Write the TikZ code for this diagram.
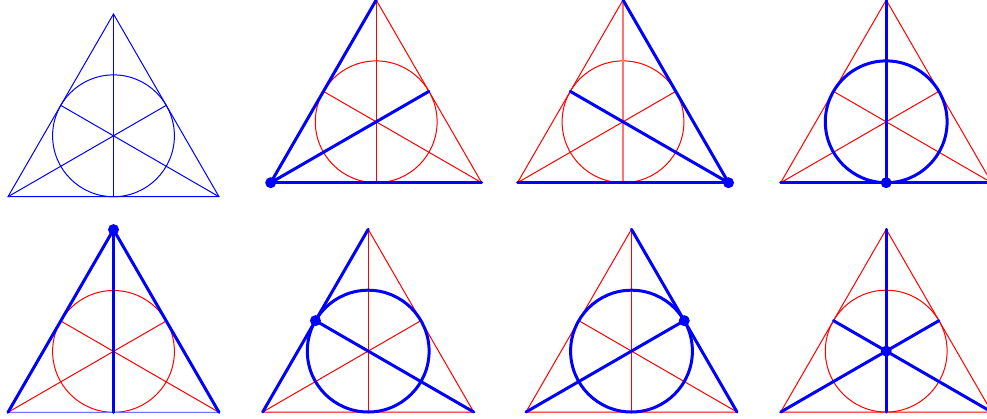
\documentclass[tikz,border=0pt]{standalone}
\usetikzlibrary{calc}
\tikzset{
  fanothin/.style={line width=1pt},
  fanohl/.style={blue, line width=3pt, line cap=round},
  fanodot/.style={fill=blue, draw=none}
}
\newcommand{\fanopts}[3]{%
  \coordinate (#1A) at (#2, #3);
  \coordinate (#1B) at (#2+211, #3);
  \coordinate (#1C) at (#2+105.5, #3-182.7);
  \coordinate (#1O) at (#2+105.5, #3-60.9);
  \coordinate (#1D) at (#2+105.5, #3);
  \coordinate (#1E) at ($(#1B)!0.5!(#1C)$);
  \coordinate (#1F) at ($(#1A)!0.5!(#1C)$);
}
\newcommand{\fanobase}[2]{%
  \draw[fanothin, #2] (#1A) -- (#1B) -- (#1C) -- cycle;
  \draw[fanothin, #2] (#1C) -- (#1D);
  \draw[fanothin, #2] (#1A) -- (#1E);
  \draw[fanothin, #2] (#1B) -- (#1F);
  \draw[fanothin, #2] (#1O) circle[radius=60.9];
}
\begin{document}
\begin{tikzpicture}[x=1pt,y=-1pt]
\useasboundingbox (0,0) rectangle (987,418);
\clip (0,0) rectangle (987,418);
% panel 1
\fanopts{a}{8}{196.7}
\fanobase{a}{blue}
\draw[fanothin, blue, line width=1.5pt] (aA) -- (aB);
% panel 2
\fanopts{b}{270.7}{182.7}
\fanobase{b}{red}
\draw[fanohl] (bA) -- (bC);
\draw[fanohl] (bA) -- (bB);
\draw[fanohl] (bA) -- (bE);
\fill[fanodot] (bA) circle[radius=5.5];
% panel 3
\fanopts{c}{517.5}{182.7}
\fanobase{c}{red}
\draw[red!55, line width=1.5pt] (cC) -- (cD);
\draw[fanohl] (cB) -- (cC);
\draw[fanohl] (cB) -- (cA);
\draw[fanohl] (cB) -- (cF);
\fill[fanodot] (cB) circle[radius=5.5];
% panel 4
\fanopts{d}{780.7}{182.7}
\fanobase{d}{red}
\draw[fanohl] (dA) -- (dB);
\draw[fanohl] (dC) -- (dD);
\draw[fanohl] (dO) circle[radius=60.9];
\fill[fanodot] (dD) circle[radius=5.5];
% panel 5
\fanopts{e}{8}{412.3}
\fanobase{e}{red}
\draw[fanothin, blue!55] (eA) -- (eB);
\draw[fanohl] (eC) -- (eA);
\draw[fanohl] (eC) -- (eB);
\draw[fanohl] (eC) -- (eD);
\fill[fanodot] (eC) circle[radius=5.5];
% panel 6
\fanopts{f}{262.7}{412}
\fanobase{f}{red}
\draw[fanohl] (fA) -- (fC);
\draw[fanohl] (fB) -- (fF);
\draw[fanohl] (fO) circle[radius=60.9];
\fill[fanodot] (fF) circle[radius=5.5];
% panel 7
\fanopts{g}{526}{412}
\fanobase{g}{red}
\draw[fanohl] (gB) -- (gC);
\draw[fanohl] (gA) -- (gE);
\draw[fanohl] (gO) circle[radius=60.9];
\fill[fanodot] (gE) circle[radius=5.5];
% panel 8
\fanopts{h}{780.7}{412}
\fanobase{h}{red}
\draw[fanohl] (hC) -- (hD);
\draw[fanohl] (hA) -- (hE);
\draw[fanohl] (hB) -- (hF);
\fill[fanodot] (hO) circle[radius=5.5];
\end{tikzpicture}
\end{document}
